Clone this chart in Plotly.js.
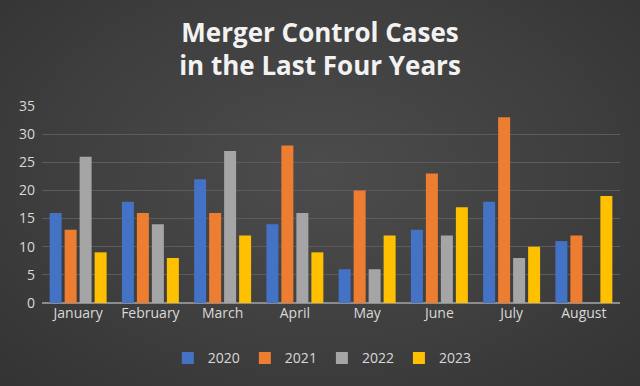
<!DOCTYPE html>
<html>
<head>
<meta charset="utf-8">
<script src="https://cdn.plot.ly/plotly-3.0.1.min.js"></script>
<style>
html,body{margin:0;padding:0;}
body{width:640px;height:386px;background:radial-gradient(ellipse at 50% 45%, #4c4c4c 0%, #3e3e3e 60%, #333333 100%);}
#chart{width:640px;height:386px;}
</style>
</head>
<body>
<div id="chart"></div>
<script>
const months = ["January","February","March","April","May","June","July","August"];
const years = ["2020","2021","2022","2023"];
const v2020 = [16,18,22,14,6,13,18,11];
const v2021 = [13,16,16,28,20,23,33,12];
const v2022 = [26,14,27,16,6,12,8,null];
const v2023 = [9,8,12,9,12,17,10,19];
const colors = ["#4472C4","#ED7D31","#A5A5A5","#FFC000"];
const series = [v2020,v2021,v2022,v2023];

const traces = series.map((s,i)=>({
  type:"bar", name:years[i], x:months, y:s,
  marker:{color:colors[i], line:{width:0}},
  hoverinfo:"x+y+name"
}));

const layout = {
  width:640, height:386,
  paper_bgcolor:"rgba(0,0,0,0)", plot_bgcolor:"rgba(0,0,0,0)",
  margin:{l:42,r:20,t:106,b:83},
  title:{text:"Merger Control Cases<br>in the Last Four Years", x:0.5, xanchor:"center", xref:"container",
    yref:"container", y:0.892, yanchor:"middle",
    font:{family:"Open Sans, sans-serif", size:26, color:"#f2f2f2", weight:"bold"}},
  barmode:"group", bargap:0.17, bargroupgap:0.2,
  xaxis:{showgrid:false, tickfont:{family:"Open Sans, sans-serif", size:14, color:"#d9d9d9"}, ticks:"", showline:false, zeroline:false},
  yaxis:{range:[0,35], dtick:5, tick0:0, showgrid:true, gridcolor:"#5c5c5c", gridwidth:1,
    zeroline:true, zerolinecolor:"#8c8c8c", zerolinewidth:1.5,
    tickfont:{family:"Open Sans, sans-serif", size:14, color:"#d9d9d9"}, ticks:"", ticklabelstandoff:6},
  showlegend:true,
  legend:{orientation:"h", x:0.485, xanchor:"center", y:-0.2, yanchor:"top",
    font:{family:"Open Sans, sans-serif", size:14, color:"#d9d9d9"}, itemwidth:30, traceorder:"normal"}
};
Plotly.newPlot("chart", traces, layout, {displayModeBar:false, staticPlot:true});
</script>
</body>
</html>
